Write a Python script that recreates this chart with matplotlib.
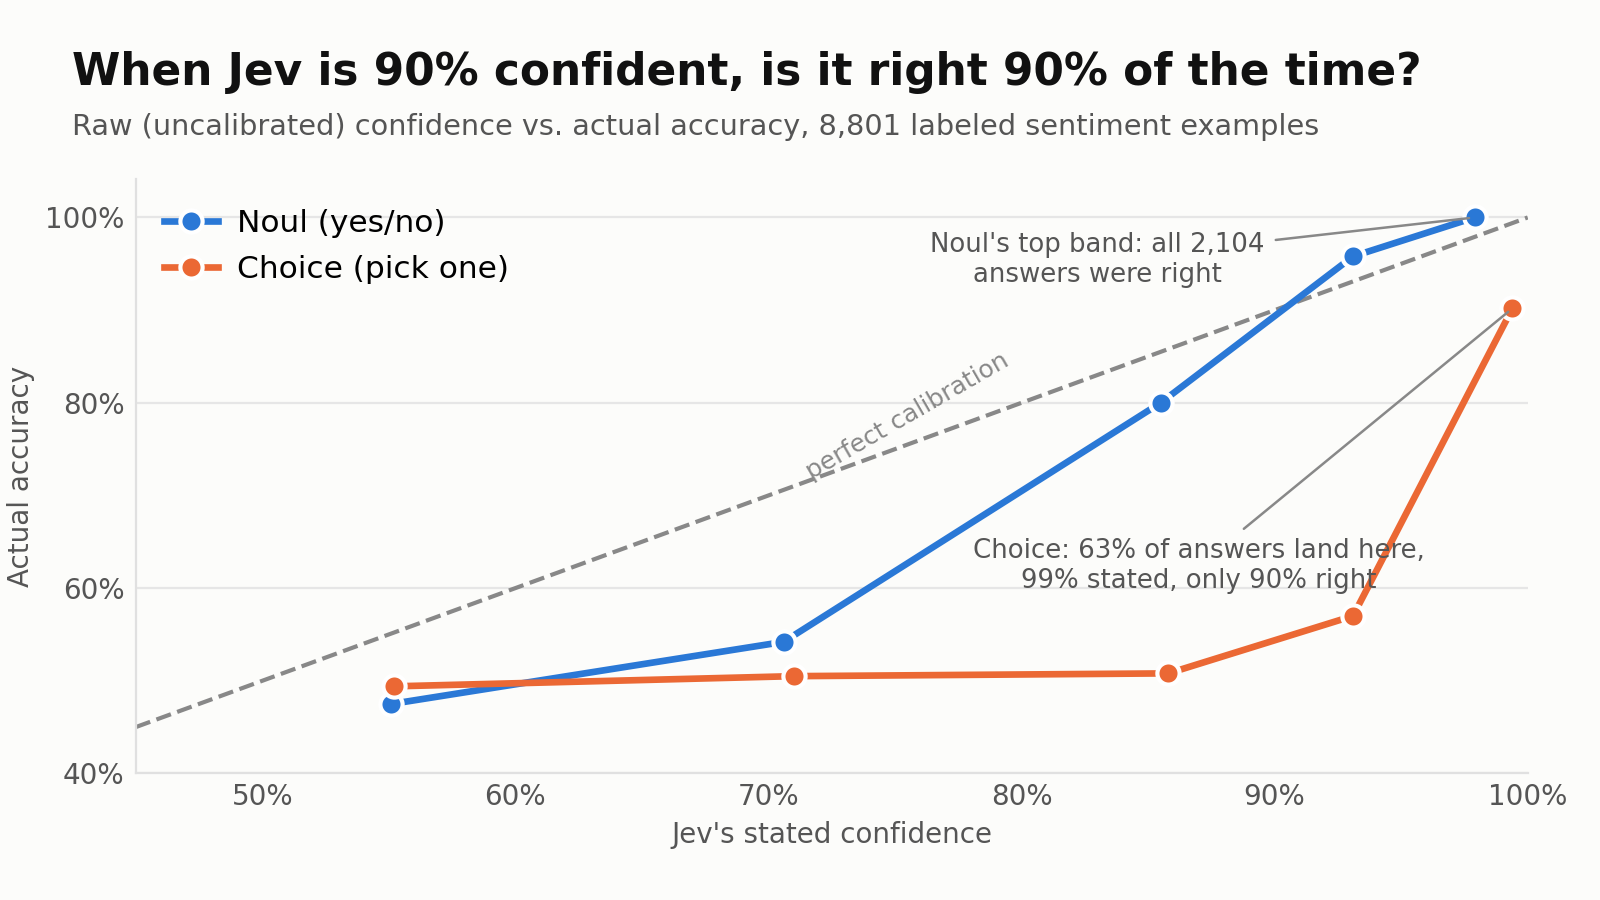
import matplotlib.pyplot as plt
from matplotlib.ticker import PercentFormatter

# stated confidence vs actual accuracy
noul_conf = [0.551, 0.706, 0.855, 0.931, 0.979]
noul_acc = [0.475, 0.542, 0.800, 0.958, 1.000]
choice_conf = [0.552, 0.710, 0.858, 0.931, 0.994]
choice_acc = [0.494, 0.505, 0.508, 0.570, 0.902]

x_ticks = [0.5, 0.6, 0.7, 0.8, 0.9, 1.0]
y_ticks = [0.4, 0.6, 0.8, 1.0]

blue = '#2a78d6'
orange = '#eb6834'
grey = '#888888'
bg = '#fcfcfa'

fig = plt.figure(figsize=(8, 4.5), dpi=200, facecolor=bg)
ax = fig.add_axes([0.0848, 0.1406, 0.87, 0.661])
ax.set_facecolor(bg)

ax.plot([0.45, 1.0], [0.45, 1.0], '--', color=grey, lw=1.5, zorder=2)
ax.text(0.755, 0.786, 'perfect calibration', rotation=30, ha='center', va='center',
        fontsize=9, color=grey)

ax.plot(noul_conf, noul_acc, 'o-', color=blue, lw=2.4, ms=8, mec='white', mew=1.5,
        label='Noul (yes/no)', zorder=3)
ax.plot(choice_conf, choice_acc, 'o-', color=orange, lw=2.4, ms=8, mec='white', mew=1.5,
        label='Choice (pick one)', zorder=3)

ax.annotate("Noul's top band: all 2,104\nanswers were right",
            xy=(noul_conf[-1], noul_acc[-1]), xytext=(0.830, 0.954),
            ha='center', va='center', fontsize=9.35, color='#555555',
            arrowprops=dict(arrowstyle='-', color=grey, lw=0.9), zorder=4)
ax.annotate("Choice: 63% of answers land here,\n99% stated, only 90% right",
            xy=(choice_conf[-1], choice_acc[-1]), xytext=(0.870, 0.624),
            ha='center', va='center', fontsize=9.35, color='#555555',
            arrowprops=dict(arrowstyle='-', color=grey, lw=0.9), zorder=4)

ax.set_xlim(0.45, 1.0)
ax.set_ylim(0.4, 1.042)
ax.set_xticks(x_ticks)
ax.set_yticks(y_ticks)
ax.xaxis.set_major_formatter(PercentFormatter(1.0, decimals=0))
ax.yaxis.set_major_formatter(PercentFormatter(1.0, decimals=0))
ax.tick_params(length=0, labelsize=10, labelcolor='#555555', pad=4)
ax.tick_params(axis='x', pad=3.5)
ax.grid(axis='y', color='#e6e6e6', lw=0.8)
ax.set_axisbelow(True)
for s in ['top', 'right']:
    ax.spines[s].set_visible(False)
for s in ['left', 'bottom']:
    ax.spines[s].set_color('#e0e0e0')
    ax.spines[s].set_linewidth(0.8)

ax.set_xlabel("Jev's stated confidence", fontsize=10, color='#555555', labelpad=3.5)
ax.set_ylabel('Actual accuracy', fontsize=10, color='#555555', labelpad=3.5)

ax.legend(loc='upper left', bbox_to_anchor=(0.0043, 0.986), frameon=False,
          fontsize=11.25, borderaxespad=0.3, handlelength=1.75, handletextpad=0.6,
          labelspacing=0.55)

fig.text(0.045, 0.906, 'When Jev is 90% confident, is it right 90% of the time?',
         fontsize=15.8, fontweight='bold', color='#111111', va='baseline')
fig.text(0.045, 0.85, 'Raw (uncalibrated) confidence vs. actual accuracy, 8,801 labeled sentiment examples',
         fontsize=10.35, color='#555555', va='baseline')

fig.savefig('out.png', dpi=200, facecolor=bg)
